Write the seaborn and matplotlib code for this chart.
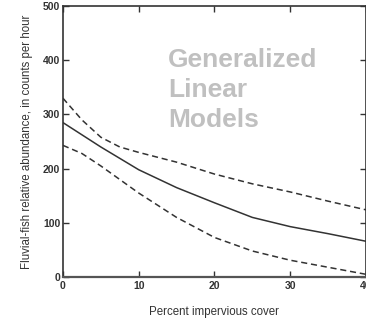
import matplotlib
matplotlib.use("Agg")
import matplotlib.pyplot as plt
import seaborn as sns
import pandas as pd

# Data
x_fit = [0, 5, 10, 15, 20, 25, 30, 35, 40]
y_fit = [285, 240, 198, 165, 137, 110, 93, 80, 66]

x_upper = [0, 2.5, 5, 7.5, 10, 15, 20, 25, 30, 35, 40]
y_upper = [330, 290, 258, 240, 230, 212, 190, 172, 157, 140, 124]

x_lower = [0, 2.5, 5, 7.5, 10, 15, 20, 25, 30, 35, 40]
y_lower = [243, 228, 205, 180, 155, 110, 73, 48, 31, 18, 5]

x_ticks = [0, 10, 20, 30, 40]
y_ticks = [0, 100, 200, 300, 400, 500]

sns.set_style("white")
plt.rcParams['font.family'] = ['Liberation Sans Narrow', 'Liberation Sans', 'DejaVu Sans']

fig = plt.figure(figsize=(3.66, 3.21), dpi=100)
ax = fig.add_axes([0.172, 0.137, 0.828, 0.844])

df_fit = pd.DataFrame({"x": x_fit, "y": y_fit})
df_up = pd.DataFrame({"x": x_upper, "y": y_upper})
df_lo = pd.DataFrame({"x": x_lower, "y": y_lower})

sns.lineplot(data=df_fit, x="x", y="y", ax=ax, color="#333333", lw=1.1)
sns.lineplot(data=df_up, x="x", y="y", ax=ax, color="#333333", lw=1.1, dashes=False, linestyle=(0, (4, 2.5)))
sns.lineplot(data=df_lo, x="x", y="y", ax=ax, color="#333333", lw=1.1, dashes=False, linestyle=(0, (4, 2.5)))

ax.set_xlim(0, 40)
ax.set_ylim(0, 500)
ax.set_xticks(x_ticks)
ax.set_yticks(y_ticks)
ax.set_xticklabels([str(v) for v in x_ticks], fontsize=7.5, fontweight="bold", color="#333333")
ax.set_yticklabels([str(v) for v in y_ticks], fontsize=7.5, fontweight="bold", color="#333333")

ax.tick_params(axis="x", direction="in", length=4, width=1, top=True, bottom=True, pad=3, colors="#333333")
ax.tick_params(axis="y", direction="in", length=4, width=1, left=True, right=True, pad=2, colors="#333333")

for s in ax.spines.values():
    s.set_visible(True)
    s.set_color("#333333")
    s.set_linewidth(1.2)
ax.spines["bottom"].set_linewidth(1.6)
ax.spines["bottom"].set_color("#555555")

ax.set_xlabel("Percent impervious cover", fontsize=8.3, color="#333333", labelpad=11)
ax.set_ylabel("Fluvial-fish relative abundance, in counts per hour", fontsize=8.3, color="#333333", labelpad=7)

ax.text(13.9, 423, "Generalized\nLinear\nModels", fontsize=19, fontweight="bold",
        color="#c0c0c0", ha="left", va="top", linespacing=1.33,
        family=["Liberation Sans", "DejaVu Sans"])

fig.savefig("out.png", dpi=100)
